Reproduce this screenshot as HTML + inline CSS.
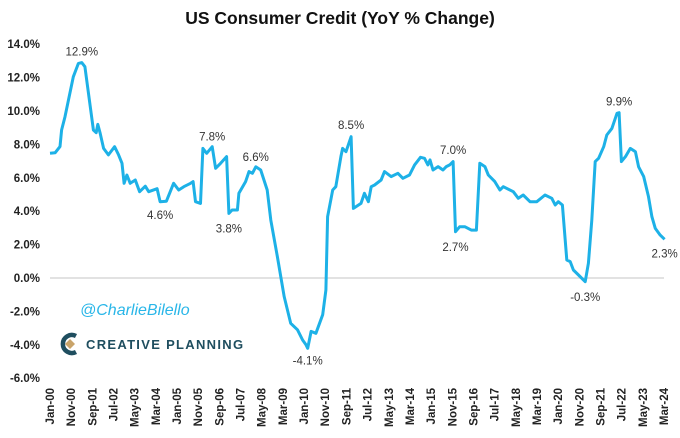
<!DOCTYPE html>
<html><head><meta charset="utf-8"><style>
body{margin:0;background:#fff;width:680px;height:433px;overflow:hidden;font-family:"Liberation Sans",sans-serif}
svg text{font-family:"Liberation Sans",sans-serif}
</style></head><body>
<svg id="chart" width="680" height="433" viewBox="0 0 680 433" xmlns="http://www.w3.org/2000/svg">
<text x="340" y="24" text-anchor="middle" font-size="17.5" font-weight="bold" fill="#111">US Consumer Credit (YoY % Change)</text>
<g id="yaxis"></g>
<g id="xaxis"></g>
<line x1="50" x2="664" y1="278" y2="278" stroke="#d0d0d0" stroke-width="1.2"/>
<g id="series"></g>
<g id="annots"></g>
<text x="80" y="315" font-size="16" font-style="italic" fill="#29b6e8" font-family="DejaVu Sans, sans-serif">@CharlieBilello</text>
<g>
<path d="M76,336 A9,9 0 1 0 76,352" fill="none" stroke="#1f4e5f" stroke-width="4.5"/>
<polygon points="70,339 75,344 70,349 65,344" fill="#c9a46a"/>
<text x="86" y="349" font-size="13" font-weight="bold" fill="#1f4e5f" letter-spacing="1.3">CREATIVE PLANNING</text>
</g>
</svg>
<script>
const months=[0,2.4,4.7,5.5,7.1,11,13.4,15,16.5,20.5,21.8,22.6,23.7,25.3,27.6,30.5,32.4,34,35,36.3,37.9,40.3,42.3,45,46.6,50.6,52,55,58.4,60.8,63.2,66.4,67.6,68.7,71.1,72.2,74,76.6,78.2,80.6,83.4,84.5,86,88.5,89.2,92.4,94,95.6,97.2,99.5,102.6,104.3,107.4,110.6,113.7,116.9,119.3,120.9,121.7,123.3,125.6,128.8,130.3,131.1,133.5,135,137.4,138.2,139.8,142.2,143.3,146.9,148.5,150.4,151.7,153.3,156.4,158,161.1,164.3,166.7,169.8,172.2,175,176.9,178.5,179.5,180.9,183.3,185.6,187.2,188.8,190.4,191.5,193.5,195.9,199,201.4,203,205.4,207,210.1,212.5,214.1,218.8,221.2,223.5,226.7,229.9,233.8,237,238.6,240.1,242,244.1,245.7,247.2,249.6,252.8,254.3,255.9,257.5,259.1,261.5,263,265.4,267.8,268.8,269.9,271.8,274.1,276.5,278,280.4,282.7,284.3,285.9,288.2,290.3];
const values=[7.47,7.5,7.87,8.86,9.66,12.05,12.85,12.9,12.65,8.86,8.7,9.2,8.66,7.76,7.37,7.86,7.37,6.87,5.67,6.17,5.67,5.87,5.17,5.5,5.17,5.35,4.57,4.6,5.67,5.27,5.47,5.67,5.77,4.57,4.47,7.76,7.47,7.86,6.57,6.87,7.27,3.87,4.07,4.07,5.07,5.77,6.37,6.27,6.66,6.47,5.27,3.47,1.27,-1.12,-2.71,-3.1,-3.71,-4.0,-4.21,-3.2,-3.31,-2.2,-0.72,3.67,5.27,5.47,7.27,7.76,7.56,8.46,4.17,4.47,5.07,4.57,5.47,5.57,5.87,6.37,6.07,6.27,5.97,6.17,6.77,7.23,7.17,6.77,7.07,6.47,6.67,6.47,6.67,6.77,6.97,2.77,3.07,3.07,2.87,2.87,6.87,6.67,6.17,5.77,5.27,5.47,5.17,4.77,4.97,4.57,4.57,4.97,4.77,4.37,4.57,4.37,1.08,0.98,0.48,0.18,-0.22,0.88,3.47,6.97,7.17,7.86,8.56,8.96,9.86,9.9,6.97,7.27,7.76,7.56,6.66,6.07,4.87,3.67,2.97,2.57,2.32];
const yTicks=[14,12,10,8,6,4,2,0,-2,-4,-6];
const xLabels=["Jan-00","Nov-00","Sep-01","Jul-02","May-03","Mar-04","Jan-05","Nov-05","Sep-06","Jul-07","May-08","Mar-09","Jan-10","Nov-10","Sep-11","Jul-12","May-13","Mar-14","Jan-15","Nov-15","Sep-16","Jul-17","May-18","Mar-19","Jan-20","Nov-20","Sep-21","Jul-22","May-23","Mar-24"];
const annotMonths=[15,76.6,97.2,52,84.5,121.7,142.2,190.4,191.5,252.8,268.8,290.3];
const annotValues=[12.9,7.8,6.6,4.6,3.8,-4.1,8.5,7.0,2.7,-0.3,9.9,2.3];
const annotPos=["above","above","above","below","below","below","above","above","below","below","above","below"];
const NS="http://www.w3.org/2000/svg";
const xS=m=>50+m*(614/290);
const yS=v=>278-v*16.7;
const ya=document.getElementById('yaxis');
yTicks.forEach(t=>{const e=document.createElementNS(NS,'text');


e.setAttribute('x',40);e.setAttribute('y',yS(t)+4);e.setAttribute('text-anchor','end');e.setAttribute('font-size','11.5');e.setAttribute('font-weight','bold');e.setAttribute('fill','#222');e.textContent=t.toFixed(1)+'%';ya.appendChild(e);});
const xa=document.getElementById('xaxis');
xLabels.forEach((l,i)=>{const x=xS(i*10)+4;const e=document.createElementNS(NS,'text');


e.setAttribute('transform',`translate(${x},388) rotate(-90)`);e.setAttribute('text-anchor','end');e.setAttribute('font-size','11.5');e.setAttribute('font-weight','bold');e.setAttribute('fill','#222');e.textContent=l;xa.appendChild(e);});
const p=document.createElementNS(NS,'path');


p.setAttribute('d',months.map((m,i)=>(i?'L':'M')+xS(m).toFixed(1)+','+yS(values[i]).toFixed(1)).join(''));
p.setAttribute('fill','none');p.setAttribute('stroke','#1db1e7');p.setAttribute('stroke-width','3');p.setAttribute('stroke-linejoin','round');
document.getElementById('series').appendChild(p);
const an=document.getElementById('annots');
annotMonths.forEach((m,i)=>{const e=document.createElementNS(NS,'text');


const y=annotPos[i]==='above'?yS(annotValues[i])-7:yS(annotValues[i])+18;
e.setAttribute('x',xS(m));e.setAttribute('y',y);e.setAttribute('text-anchor','middle');e.setAttribute('font-size','11.5');e.setAttribute('fill','#333');e.textContent=annotValues[i].toFixed(1)+'%';an.appendChild(e);});
</script>
</body></html>
